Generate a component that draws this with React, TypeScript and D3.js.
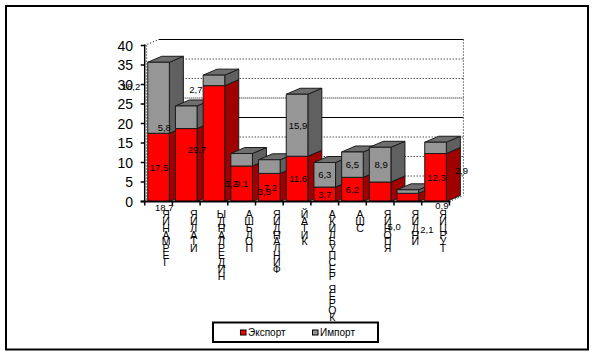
import React from "react";
import * as d3 from "d3";

const categories = ["ЯИНАМРЕГ", "ЯИЛАТИ", "ЫДНАЛРЕДИН", "АШЬЛОП", "ЯИДНАЛНИФ", "ЙАТИК", "АКИЛБУПСЕР ЯЕРОК", "АШС", "ЯИНОПЯ", "ЯИДНИ", "ЯИЦРУТ"];
const exportValues = [17.5, 18.7, 29.7, 9.1, 7.2, 11.6, 3.7, 6.2, 5.0, 2.1, 12.3];
const importValues = [18.2, 5.8, 2.7, 3.2, 3.5, 15.9, 6.3, 6.5, 8.9, 0.9, 2.9];
const yTicks = [0, 5, 10, 15, 20, 25, 30, 35, 40];

// hand-placed data labels in the original: nudges from each segment's centre
const exportNudge = [[0.5, 0.5], [-22, 42], [-17, 6], [0, 0], [1, 0], [1, 0], [0, 0], [0, 0], [14, 35], [19, 32], [1, 0]];
const importNudge = [[-27.5, -11], [-22, 10.5], [-18, 9], [-10.6, 24], [-5, 25], [1, 0], [0, 0], [0, 0], [1, 0], [34, 14], [26, 23]];
const gridDash: Record<number, string | undefined> = { 5: "1 2", 10: "1 2", 15: "1 2", 25: "1 1", 30: "1 2", 35: "1 2" };

const FONT = "'Liberation Sans', Arial, sans-serif";
const DX = 14;
const DY = 6;

const y = d3.scaleLinear().domain([0, 40]).range([201.5, 45.5]);
const x = d3.scaleBand<number>().domain(categories.map((_, i) => i)).range([144.7, 449.4]).paddingInner(0.22).paddingOuter(0.11);
const fmt = (v: number) => v.toFixed(1).replace(".", ",");

const rows = categories.map((_, i) => ({ i, exp: exportValues[i], imp: importValues[i] }));
const stacked = d3.stack<any, any, string>().keys(["exp", "imp"])(rows);

const Block = ({ x0, w, y0, y1, front, side, top }: any) => {
  const sidePath = d3.path();
  sidePath.moveTo(x0 + w, y1);
  sidePath.lineTo(x0 + w + DX, y1 - DY);
  sidePath.lineTo(x0 + w + DX, y0 - DY);
  sidePath.lineTo(x0 + w, y0);
  sidePath.closePath();
  const topPath = d3.path();
  topPath.moveTo(x0, y1);
  topPath.lineTo(x0 + DX, y1 - DY);
  topPath.lineTo(x0 + w + DX, y1 - DY);
  topPath.lineTo(x0 + w, y1);
  topPath.closePath();
  return (
    <g stroke="#1a1a1a" strokeWidth={1} strokeLinejoin="round">
      <path d={sidePath.toString()} fill={side} />
      <path d={topPath.toString()} fill={top} />
      <rect x={x0} y={y1} width={w} height={y0 - y1} fill={front} />
    </g>
  );
};

export default function App() {
  const axisX = x.range()[0];
  const axisEnd = x.range()[1];
  const step = x.step();
  const wallL = axisX + DX;
  const wallR = axisEnd + DX;
  return (
    <svg width={593} height={356} style={{ position: "absolute", left: 0, top: 0, background: "#fff" }} fontFamily={FONT}>
      <rect x={6} y={6} width={582} height={343.5} fill="none" stroke="#000" strokeWidth={2} />

      {/* back wall */}
      {yTicks.filter((t) => t > 0).map((t) => (
        <line key={t} x1={wallL} x2={wallR} y1={y(t) - DY} y2={y(t) - DY} stroke="#000" strokeWidth={1} strokeDasharray={gridDash[t]} />
      ))}
      <line x1={wallR} x2={wallR} y1={y(40) - DY} y2={y(0) - DY} stroke="#000" strokeDasharray="1 2" />
      <line x1={axisX} x2={wallL} y1={y(40)} y2={y(40) - DY} stroke="#000" strokeDasharray="1 2" />
      <line x1={axisEnd} x2={wallR} y1={y(0)} y2={y(0) - DY} stroke="#000" strokeDasharray="1 2" />
      <line x1={axisX + 2} x2={axisX + 2} y1={y(40)} y2={y(0)} stroke="#000" strokeDasharray="1 2" />

      {/* bars */}
      {rows.map((r) => {
        const x0 = x(r.i)!;
        const w = x.bandwidth();
        return (
          <g key={r.i}>
            <Block x0={x0} w={w} y0={y(stacked[0][r.i][0])} y1={y(stacked[0][r.i][1])} front="#ff0000" side="#a00000" top="#a00000" />
            <Block x0={x0} w={w} y0={y(stacked[1][r.i][0])} y1={y(stacked[1][r.i][1])} front="#969696" side="#606060" top="#6e6e6e" />
          </g>
        );
      })}

      {/* axes */}
      <line x1={axisX} x2={axisX} y1={y(40) - 1} y2={y(0) + 1} stroke="#000" strokeWidth={1.5} />
      <line x1={axisX - 4} x2={axisEnd + 1} y1={y(0)} y2={y(0)} stroke="#000" strokeWidth={2} />
      {yTicks.map((t) => (
        <g key={t}>
          <line x1={axisX - 4} x2={axisX} y1={y(t)} y2={y(t)} stroke="#000" strokeWidth={1.5} />
          <text x={133} y={y(t) + 5} textAnchor="end" fontSize={14} fill="#000">{t}</text>
        </g>
      ))}
      {d3.range(categories.length + 1).map((i) => (
        <line key={i} x1={axisX + i * step} x2={axisX + i * step} y1={y(0)} y2={y(0) + 4} stroke="#000" strokeWidth={1.5} />
      ))}

      {/* stacked category letters */}
      {categories.map((c, i) => (
        <text key={c} textAnchor="middle" fontSize={10.5} fill="#000">
          {Array.from(c).map((ch, k) => (
            <tspan key={k} x={x(i)! + x.bandwidth() / 2 + 7.5} y={218 + k * 6.85}>{ch === " " ? "\u00a0" : ch}</tspan>
          ))}
        </text>
      ))}

      {/* data labels */}
      {rows.map((r) => {
        const cx = x(r.i)! + x.bandwidth() / 2;
        const em = y((stacked[0][r.i][0] + stacked[0][r.i][1]) / 2);
        const im = y((stacked[1][r.i][0] + stacked[1][r.i][1]) / 2);
        return (
          <g key={r.i} fontSize={9.5} fill="#000" textAnchor="middle">
            <text x={cx + exportNudge[r.i][0]} y={em + exportNudge[r.i][1] + 3.5}>{fmt(r.exp)}</text>
            <text x={cx + importNudge[r.i][0]} y={im + importNudge[r.i][1] + 3.5}>{fmt(r.imp)}</text>
          </g>
        );
      })}

      {/* legend */}
      <rect x={213} y={322.5} width={165} height={19.5} fill="#fff" stroke="#000" strokeWidth={2} />
      <rect x={240.5} y={330} width={5.5} height={5} fill="#ff0000" stroke="#000" />
      <text x={248} y={336} fontSize={10} fill="#000">Экспорт</text>
      <rect x={312.5} y={330} width={5.5} height={5} fill="#969696" stroke="#000" />
      <text x={320} y={336} fontSize={10} fill="#000">Импорт</text>
    </svg>
  );
}
